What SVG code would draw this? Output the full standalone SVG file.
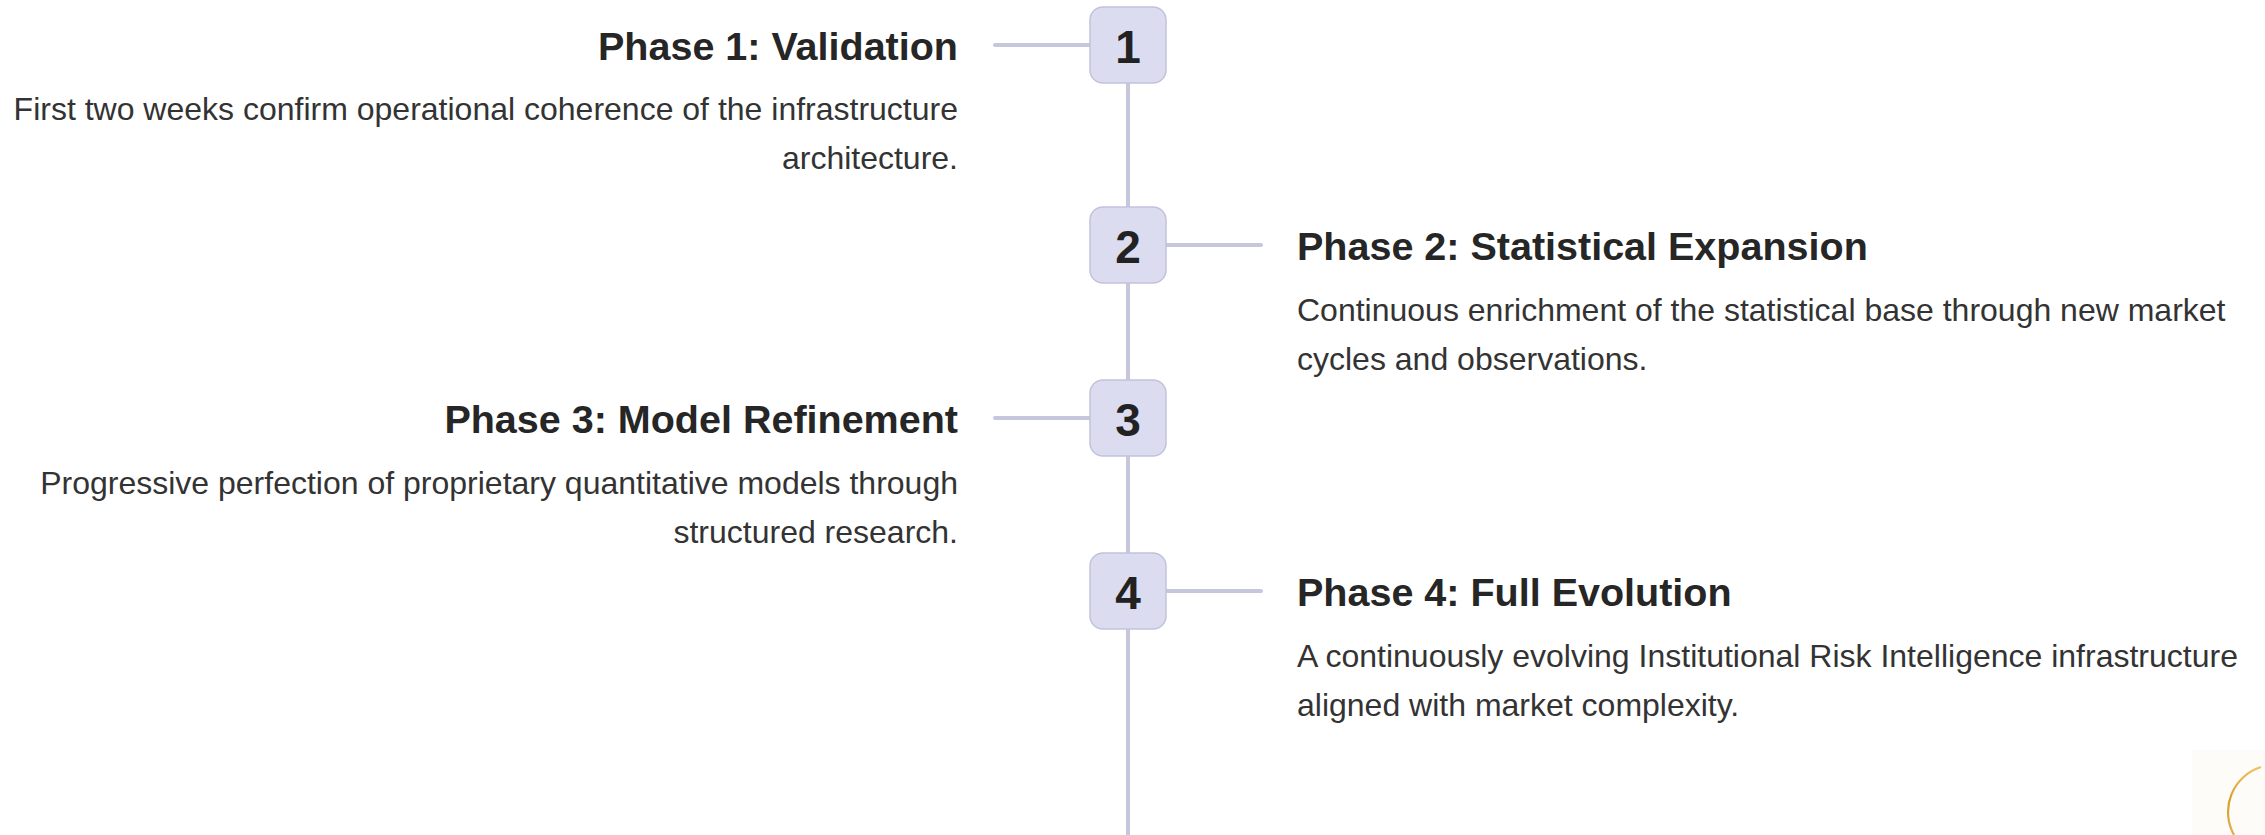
<svg xmlns="http://www.w3.org/2000/svg" width="2265" height="835" viewBox="0 0 2265 835">
<defs>
<linearGradient id="gold" x1="0" y1="0" x2="0" y2="1">
<stop offset="0" stop-color="#f0c060"/>
<stop offset="0.5" stop-color="#d9a02a"/>
<stop offset="1" stop-color="#e0b050"/>
</linearGradient>
<style>
.box{fill:#dcdcf1;stroke:#c2c2dc;stroke-width:1.5}
.num{font-family:"Liberation Sans",Arial,sans-serif;font-weight:bold;font-size:46px;fill:#222;text-anchor:middle}
.title{font-family:"Liberation Sans",Arial,sans-serif;font-weight:bold;font-size:39.5px;fill:#262626}
.body{font-family:"Liberation Sans",Arial,sans-serif;font-size:32px;fill:#333}
.l{text-anchor:end}
.line{stroke:#c6c6dc;stroke-width:4;stroke-linecap:round;fill:none}
</style>
</defs>
<rect width="2265" height="835" fill="#ffffff"/>
<g id="connectors">
<line class="line" x1="1128" y1="45" x2="1128" y2="840"/>
<line class="line" x1="995" y1="45" x2="1090" y2="45"/>
<line class="line" x1="1166" y1="245" x2="1261" y2="245"/>
<line class="line" x1="995" y1="418" x2="1090" y2="418"/>
<line class="line" x1="1166" y1="591" x2="1261" y2="591"/>
</g>
<g id="phase1">
<rect class="box" x="1090" y="7" width="76" height="76" rx="13"/>
<text class="num" x="1128" y="62.5">1</text>
<text class="title l" x="958" y="60">Phase 1: Validation</text>
<text class="body l" x="958" y="120">First two weeks confirm operational coherence of the infrastructure</text>
<text class="body l" x="958" y="169">architecture.</text>
</g>
<g id="phase2">
<rect class="box" x="1090" y="207" width="76" height="76" rx="13"/>
<text class="num" x="1128" y="262.5">2</text>
<text class="title" x="1297" y="260">Phase 2: Statistical Expansion</text>
<text class="body" x="1297" y="321">Continuous enrichment of the statistical base through new market</text>
<text class="body" x="1297" y="370">cycles and observations.</text>
</g>
<g id="phase3">
<rect class="box" x="1090" y="380" width="76" height="76" rx="13"/>
<text class="num" x="1128" y="435.5">3</text>
<text class="title l" x="958" y="433">Phase 3: Model Refinement</text>
<text class="body l" x="958" y="494">Progressive perfection of proprietary quantitative models through</text>
<text class="body l" x="958" y="543">structured research.</text>
</g>
<g id="phase4">
<rect class="box" x="1090" y="553" width="76" height="76" rx="13"/>
<text class="num" x="1128" y="608.5">4</text>
<text class="title" x="1297" y="606">Phase 4: Full Evolution</text>
<text class="body" x="1297" y="667">A continuously evolving Institutional Risk Intelligence infrastructure</text>
<text class="body" x="1297" y="716">aligned with market complexity.</text>
</g>
<g id="corner">
<rect x="2192" y="750" width="73" height="85" fill="#fefcf8"/>
<path d="M2261,767 A47.2,47.2 0 0 0 2234,835" fill="none" stroke="url(#gold)" stroke-width="2.2"/>
</g>
</svg>
